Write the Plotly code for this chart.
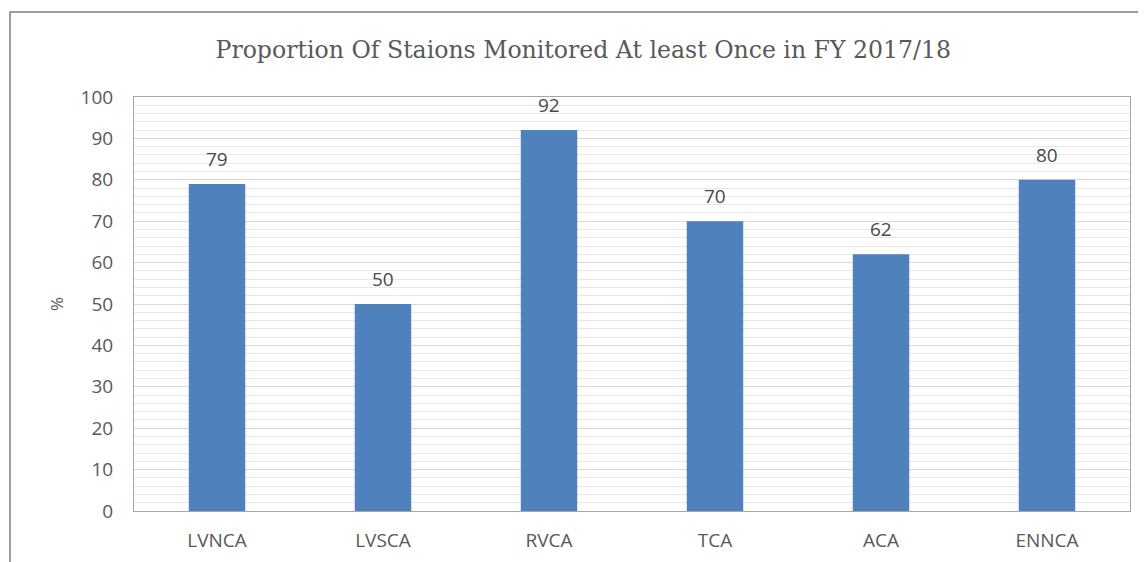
import plotly.graph_objects as go

categories = ["LVNCA", "LVSCA", "RVCA", "TCA", "ACA", "ENNCA"]
values = [79, 50, 92, 70, 62, 80]
y_ticks = list(range(0, 101, 10))

title_text = "Proportion Of Staions Monitored At least Once in FY 2017/18"

fig = go.Figure()
fig.add_trace(go.Bar(
    x=categories, y=values,
    marker=dict(color="#4F81BD", line=dict(width=0)),
    width=0.34,
))

for c, v in zip(categories, values):
    fig.add_annotation(x=c, y=v, text=str(v), showarrow=False,
                       yanchor="middle", yshift=25,
                       font=dict(family="Open Sans", size=19, color="#4a4a4a"))

fig.update_layout(
    width=1146, height=562,
    margin=dict(l=126, r=24, t=89, b=59),
    paper_bgcolor="white", plot_bgcolor="white",
    showlegend=False,
    title=dict(text=title_text, x=0.502, xanchor="center", y=0.925, yanchor="middle",
               font=dict(family="DejaVu Serif", size=23.6, color="#595959")),
)
fig.update_xaxes(
    showgrid=False, showline=True, linecolor="#A6A6A6", linewidth=1, mirror=True,
    ticks="", tickfont=dict(family="Open Sans", size=19, color="#595959"),
    ticklabelstandoff=12,
)
fig.update_yaxes(
    range=[0, 100], tickvals=y_ticks, showgrid=True, gridcolor="#D9D9D9", gridwidth=1,
    minor=dict(dtick=2, showgrid=True, gridcolor="#E8E8E8", gridwidth=1),
    showline=True, linecolor="#A6A6A6", linewidth=1, mirror=True,
    zeroline=False,
    ticks="", tickfont=dict(family="Open Sans", size=19, color="#595959"),
    ticklabelstandoff=16,
    title=dict(text="%", font=dict(family="Open Sans", size=17, color="#595959"), standoff=12),
)

# outer chart border
fig.add_shape(type="rect", xref="paper", yref="paper",
              x0=(2 - 126) / 996, x1=(1150 - 126) / 996,
              y0=-(570 - 503) / 414, y1=1 + (89 - 4) / 414,
              line=dict(color="#7F7F7F", width=1.5), fillcolor="rgba(0,0,0,0)", layer="below")

fig.write_html("out.html")
